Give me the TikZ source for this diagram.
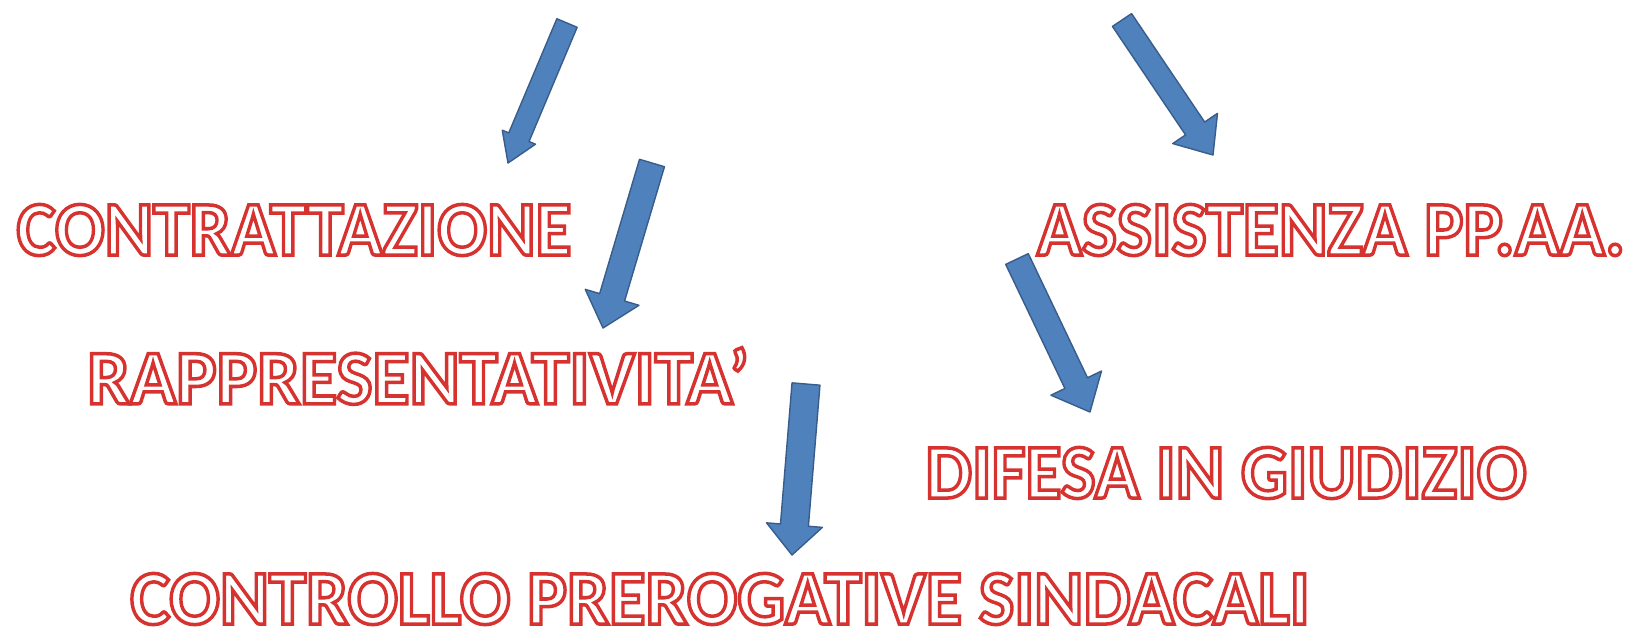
\documentclass[tikz,border=0pt]{standalone}
\usepackage{fontspec}
\setmainfont{Carlito}
\usetikzlibrary{calc,positioning}
\definecolor{arrowblue}{RGB}{79,129,189}
\definecolor{arrowedge}{RGB}{56,93,138}
% white letters with a red stroke round them
\newcommand{\outlined}[1]{\special{pdf:literal direct 2 Tr 1 w 0.84 0.2 0.19 RG}#1\special{pdf:literal direct 0 Tr}}

\begin{document}
\begin{tikzpicture}[x=0.01cm, y=-0.01cm,
  voce/.style={inner sep=0pt, text=white, font=\fontsize{22}{26}\selectfont\bfseries},
  blockarrow/.style={fill=arrowblue, draw=arrowedge, line width=0.4pt, line join=round}]
\useasboundingbox (0,0) rectangle (1629,632);

% the five headings
\foreach \pos/\name/\sx/\txt in {{(294,230)/contr/0.951/CONTRATTAZIONE}, {(1331,230)/assist/0.957/ASSISTENZA PP.AA.}, {(418,376)/rappr/0.984/RAPPRESENTATIVITA’}, {(1226,473)/difesa/0.953/DIFESA IN GIUDIZIO}, {(720,599)/prerog/0.966/CONTROLLO PREROGATIVE SINDACALI}}
\node[voce] (\name) at \pos {\scalebox{\sx}[1]{\outlined{\txt}}};

% tails and tips of the arrows
\coordinate (t1) at (567,23);   \coordinate (p1) at (508,163);
\coordinate (t2) at (652,163);  \coordinate (p2) at (603,328);
\coordinate (t3) at (1122,20);  \coordinate (p3) at (1213,155);
\coordinate (t4) at (1017,259); \coordinate (p4) at (1090,412);
\coordinate (t5) at (806,384);  \coordinate (p5) at (792,555);

% block arrows: shaft half width / head half width / head length (mm)
\foreach \t/\p/\w/\W/\h in {t1/p1/1.1/1.8/2.8, t2/p2/1.3/2.8/3.2, t3/p3/1.15/2.7/3.2, t4/p4/1.25/2.8/3.2, t5/p5/1.4/2.8/3.0}
{
\coordinate (b) at ($(\p)!\h mm!(\t)$);
\draw[blockarrow] ($(\t)!\w mm!90:(\p)$) -- ($(b)!\w mm!90:(\p)$) -- ($(b)!\W mm!90:(\p)$) -- (\p)
  -- ($(b)!\W mm!-90:(\p)$) -- ($(b)!\w mm!-90:(\p)$) -- ($(\t)!\w mm!-90:(\p)$) -- cycle;
}

\end{tikzpicture}
\end{document}
